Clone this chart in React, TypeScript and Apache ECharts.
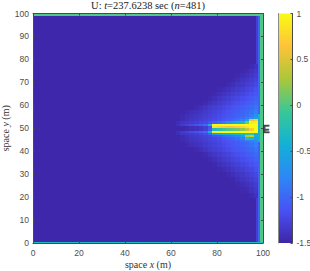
import React, { useEffect, useRef } from "react";
import * as echarts from "echarts";

const xTicksMax = 100;
const colorStops = ["#3e26a8", "#4852f4", "#2d87f7", "#12b1d6", "#37c897", "#abc739", "#fec338", "#f9fb14"];
const cbMin = -1.5;
const cbMax = 1;
const background = -1.49;
const columnStarts = [60, 62, 64, 66, 68, 70, 72, 74, 76, 78, 80, 82, 84, 86, 88, 90, 92, 94, 96];

// core rows, 1 m tall: [y bottom, values by column]
const B = -1.49;
const coreRows: [number, number[]][] = [
  [55, [B, B, -1.46, -1.43, -1.4, -1.37, -1.34, -1.31, -1.27, -1.24, -1.2, -1.16, -1.12, -1.08, -1.04, -1.0, -0.94, -0.85, -0.7]],
  [54, [B, B, -1.45, -1.42, -1.38, -1.35, -1.32, -1.29, -1.25, -1.22, -1.18, -1.14, -1.1, -1.05, -1.0, -0.95, -0.85, -0.7, -0.55]],
  [53, [B, B, -1.45, -1.41, -1.37, -1.34, -1.31, -1.27, -1.23, -1.2, -1.16, -1.1, -1.05, -0.98, -0.9, -0.8, -0.55, 0.55, 0.7]],
  [52, [B, -1.44, -1.38, -1.36, -1.33, -1.3, -1.26, -1.22, -1.15, -1.05, -0.95, -0.85, -0.7, -0.55, -0.45, -0.35, 0.1, 0.9, 0.95]],
  [51, [B, -1.42, -1.34, -1.28, -1.22, -1.16, -1.08, -0.98, -0.4, 0.98, 1, 1, 1, 1, 1, 1, 1, 1, 1]],
  [50, [B, B, B, -1.46, -1.43, -1.4, -1.37, -1.3, -1.15, 0.85, 0.75, 0.7, 0.65, 0.65, 0.7, 0.75, 0.85, 1, 1]],
  [49, [B, B, B, -1.46, -1.43, -1.4, -1.37, -1.3, -1.1, -0.3, -0.2, -0.1, 0, 0.05, 0.1, 0.2, 0.4, 0.7, 1]],
  [48, [B, -1.42, -1.34, -1.28, -1.22, -1.16, -1.08, -0.98, -0.4, 0.92, 0.95, 0.98, 1, 1, 1, 1, 1, 1, 1]],
  [47, [B, -1.44, -1.38, -1.36, -1.33, -1.3, -1.26, -1.2, -1.05, -0.7, -0.6, -0.5, -0.45, -0.4, -0.35, -0.3, -0.2, -0.15, -0.4]],
  [46, [B, B, -1.45, -1.41, -1.37, -1.34, -1.31, -1.27, -1.22, -1.15, -1.08, -1.0, -0.92, -0.85, -0.75, -0.6, 0.35, 0.45, -0.45]],
  [45, [B, B, -1.45, -1.42, -1.38, -1.35, -1.32, -1.29, -1.25, -1.22, -1.18, -1.12, -1.06, -1.0, -0.92, -0.8, -0.2, -0.3, -0.6]],
  [44, [B, B, -1.46, -1.43, -1.39, -1.37, -1.34, -1.31, -1.27, -1.24, -1.2, -1.16, -1.12, -1.08, -1.02, -0.96, -0.88, -0.8, -0.7]],
];

// wedge rows, 2 m tall, by distance from y = 50 (start of band)
const wedgeDistances = [6, 8, 10, 12, 14, 16, 18, 20, 22, 24, 26];
const wedgeRows = [
  [B, B, B, -1.46, -1.43, -1.4, -1.38, -1.34, -1.3, -1.27, -1.23, -1.19, -1.15, -1.11, -1.07, -1.03, -0.98, -0.92, -0.82],
  [B, B, B, B, B, -1.46, -1.42, -1.38, -1.34, -1.3, -1.27, -1.23, -1.19, -1.15, -1.11, -1.07, -1.03, -0.98, -0.9],
  [B, B, B, B, B, B, B, -1.46, -1.41, -1.37, -1.33, -1.29, -1.25, -1.21, -1.17, -1.13, -1.09, -1.05, -0.98],
  [B, B, B, B, B, B, B, B, -1.46, -1.42, -1.38, -1.34, -1.3, -1.26, -1.22, -1.18, -1.14, -1.1, -1.04],
  [B, B, B, B, B, B, B, B, B, -1.47, -1.43, -1.39, -1.36, -1.32, -1.28, -1.24, -1.2, -1.16, -1.1],
  [B, B, B, B, B, B, B, B, B, B, -1.47, -1.44, -1.4, -1.37, -1.33, -1.3, -1.26, -1.22, -1.16],
  [B, B, B, B, B, B, B, B, B, B, B, B, -1.46, -1.42, -1.38, -1.35, -1.31, -1.27, -1.22],
  [B, B, B, B, B, B, B, B, B, B, B, B, B, -1.47, -1.43, -1.39, -1.36, -1.32, -1.27],
  [B, B, B, B, B, B, B, B, B, B, B, B, B, B, -1.47, -1.44, -1.4, -1.37, -1.32],
  [B, B, B, B, B, B, B, B, B, B, B, B, B, B, B, -1.47, -1.45, -1.41, -1.36],
  [B, B, B, B, B, B, B, B, B, B, B, B, B, B, B, B, B, -1.46, -1.4],
];
const lowerBandHeight = 2.2;
const lowerBandTop = 44;

// [x0, y0, x1, y1, value]
const boundaryCells = [
  [0, 0, 100, 100, background],
  [97, 0, 97.9, 100, -1.3],
  [97.9, 0, 98.7, 100, -1.05],
  [97.9, 44, 98.7, 56, -0.45],
  [98.7, 0, 100, 100, 0],
  [0.4, 99.1, 100, 100, 0],
  [0, 0, 0.4, 100, -0.3],
  [0, 0, 100, 0.4, -0.3],
];

const colorOf = (v: number) => echarts.color.lerp((v - cbMin) / (cbMax - cbMin), colorStops);

const cells: number[][] = [...boundaryCells];
coreRows.forEach(([y, vals]) =>
  vals.forEach((v, i) => cells.push([columnStarts[i], y, columnStarts[i] + 2, y + 1, v]))
);
wedgeRows.forEach((vals, r) =>
  vals.forEach((v, i) => {
    const d = wedgeDistances[r];
    cells.push([columnStarts[i], 50 + d, columnStarts[i] + 2, 50 + d + 2, v]);
    const top = lowerBandTop - r * lowerBandHeight;
    cells.push([columnStarts[i], top - lowerBandHeight, columnStarts[i] + 2, top, v]);
  })
);

const tickColor = "#4a4a4a";
const labelColor = "#4d4d4d";
const serif = "'Liberation Serif'";
const sans = "'Liberation Sans'";
const richTitle = (size: number, color: string) => ({
  a: { fontFamily: serif, fontSize: size, fontWeight: "normal" as const, color },
  i: { fontFamily: serif, fontSize: size, fontWeight: "normal" as const, fontStyle: "italic" as const, color },
});

const frame = (extra: any) => ({
  axisLine: { show: true, onZero: false, lineStyle: { color: tickColor, width: 1 } },
  axisTick: { show: true, inside: true, length: 2, lineStyle: { color: tickColor, width: 1 } },
  splitLine: { show: false },
  z: 5,
  ...extra,
});

export default function App() {
  const ref = useRef<HTMLDivElement>(null);
  useEffect(() => {
    const chart = echarts.init(ref.current!, undefined, { renderer: "svg" });
    chart.setOption({
      animation: false,
      backgroundColor: "#fff",
      title: {
        text: "{a|U: }{i|t}{a|=237.6238 sec (}{i|n}{a|=481)}",
        left: 148,
        top: 0,
        textAlign: "center",
        padding: 0,
        textStyle: { fontWeight: "normal", rich: richTitle(10.5, "#222") },
      },
      grid: [
        { left: 33, top: 13.5, width: 230, height: 229.5, outerBoundsMode: "none" },
        { left: 278, top: 13.5, width: 14.5, height: 229.5, outerBoundsMode: "none" },
      ],
      xAxis: [
        frame({
          type: "value", gridIndex: 0, position: "bottom", min: 0, max: xTicksMax, interval: 20,
          name: "{a|space }{i|x}{a| (m)}", nameLocation: "middle", nameGap: 16, nameMoveOverlap: false,
          nameTextStyle: { rich: richTitle(10, "#333") },
          axisLabel: { fontFamily: sans, fontSize: 8.5, color: labelColor, margin: 5, hideOverlap: false },
        }),
        frame({ type: "value", gridIndex: 0, position: "top", min: 0, max: xTicksMax, interval: 20, axisLabel: { show: false } }),
        { type: "value", gridIndex: 1, min: 0, max: 1, show: false },
      ],
      yAxis: [
        frame({
          type: "value", gridIndex: 0, position: "left", min: 0, max: 100, interval: 10,
          name: "{a|space }{i|y}{a| (m)}", nameLocation: "middle", nameGap: 23, nameMoveOverlap: false,
          nameTextStyle: { rich: richTitle(10, "#333") },
          axisLabel: { fontFamily: sans, fontSize: 8.5, color: labelColor, margin: 4 },
        }),
        frame({ type: "value", gridIndex: 0, position: "right", min: 0, max: 100, interval: 10, axisLabel: { show: false } }),
        frame({
          type: "value", gridIndex: 1, position: "right", min: cbMin, max: cbMax, interval: 0.5,
          axisLabel: { fontFamily: sans, fontSize: 8.5, color: labelColor, margin: 4 },
        }),
        {
          type: "value", gridIndex: 1, position: "left", min: cbMin, max: cbMax, interval: 0.5, z: 5,
          axisLine: { show: true, onZero: false, lineStyle: { color: "#8a8a8a" } },
          axisTick: { show: false }, axisLabel: { show: false }, splitLine: { show: false },
        },
      ],
      series: [
        {
          type: "custom",
          xAxisIndex: 0,
          yAxisIndex: 0,
          clip: true,
          data: cells,
          encode: { x: [0, 2], y: [1, 3] },
          renderItem: (_p: any, api: any) => {
            const a = api.coord([api.value(0), api.value(3)]);
            const b = api.coord([api.value(2), api.value(1)]);
            const x0 = Math.round(a[0]);
            const y0 = Math.round(a[1]);
            return {
              type: "rect",
              shape: { x: x0, y: y0, width: Math.round(b[0]) - x0, height: Math.round(b[1]) - y0 },
              style: { fill: colorOf(api.value(4)) },
            };
          },
        },
        {
          type: "custom",
          xAxisIndex: 2,
          yAxisIndex: 2,
          data: [[0, cbMin, 1, cbMax]],
          encode: { x: [0, 2], y: [1, 3] },
          renderItem: (_p: any, api: any) => {
            const a = api.coord([api.value(0), api.value(3)]);
            const b = api.coord([api.value(2), api.value(1)]);
            return {
              type: "rect",
              shape: { x: a[0], y: a[1], width: b[0] - a[0], height: b[1] - a[1] },
              style: {
                fill: new echarts.graphic.LinearGradient(
                  0, 1, 0, 0,
                  colorStops.map((color, i) => ({ offset: i / (colorStops.length - 1), color }))
                ),
              },
            };
          },
        },
        {
          type: "scatter",
          xAxisIndex: 0,
          yAxisIndex: 0,
          symbolSize: 0,
          data: [[100, 49.5]],
          silent: true,
          clip: false,
          z: 6,
          label: {
            show: true,
            position: "right",
            distance: 0,
            formatter: "E",
            fontFamily: sans,
            fontWeight: "bold",
            fontSize: 10,
            color: "#222",
            textBorderColor: "#222",
            textBorderWidth: 0.5,
          },
        },
      ],
    });
    return () => chart.dispose();
  }, []);
  return <div ref={ref} style={{ width: 310, height: 271, position: "absolute", left: 0, top: 0 }} />;
}
